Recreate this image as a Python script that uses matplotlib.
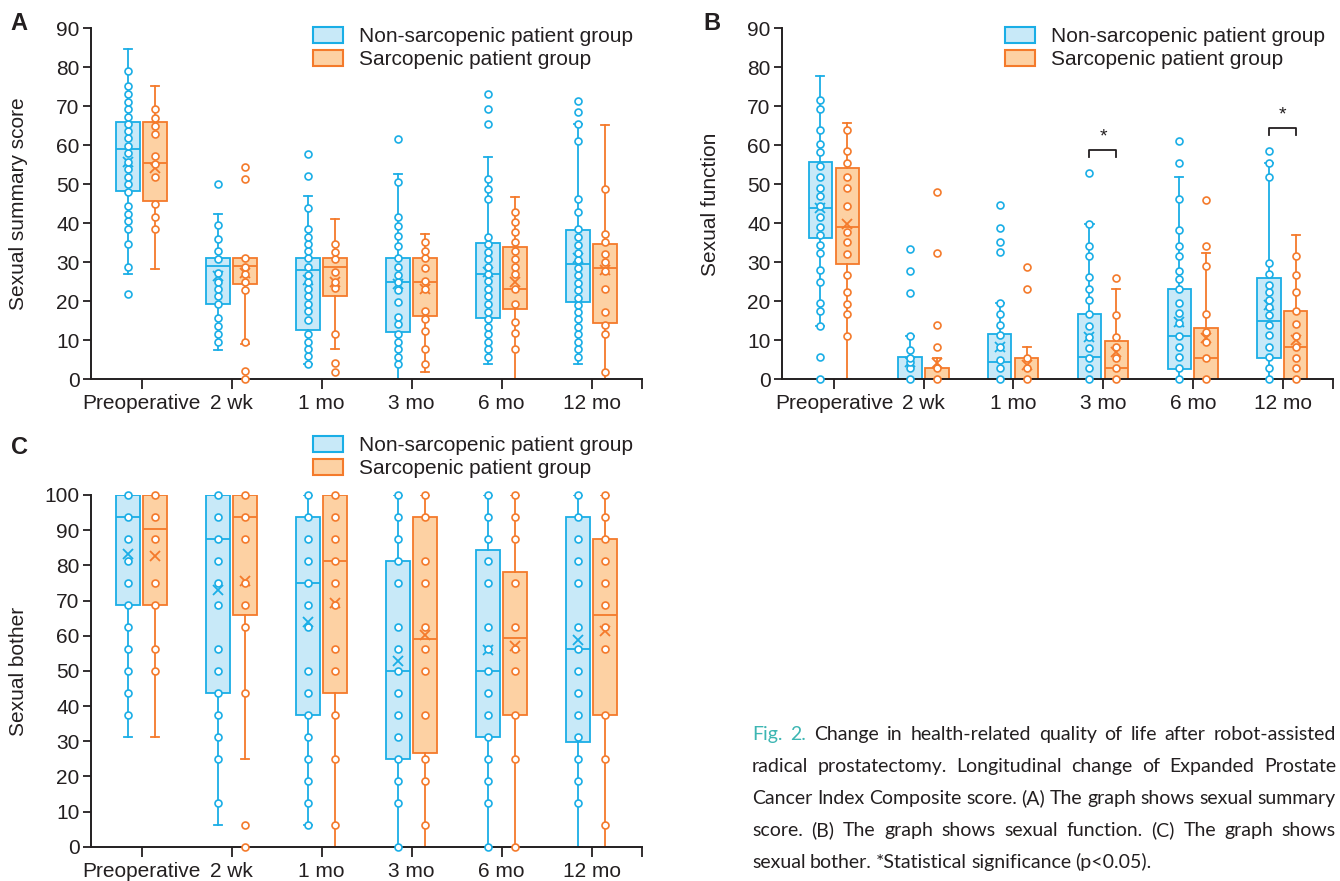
import numpy as np
import matplotlib
matplotlib.use('Agg')
import matplotlib.pyplot as plt
from matplotlib.patches import Patch

plt.rcParams['font.family'] = ['Liberation Sans', 'DejaVu Sans']

timepoints = ['Preoperative', '2 wk', '1 mo', '3 mo', '6 mo', '12 mo']
group_labels = ['Non-sarcopenic patient group', 'Sarcopenic patient group']

# box stats per time point: (lower whisker, Q1, median, Q3, upper whisker, mean)
a_non_box = [(26.9, 48.2, 59.0, 66.0, 84.7, 55.8),
             (7.5, 19.2, 29.0, 31.1, 42.3, 26.5),
             (3.8, 12.7, 28.0, 31.1, 47.0, 25.5),
             (0.0, 12.0, 25.0, 31.1, 52.6, 24.3),
             (3.8, 15.6, 27.0, 35.0, 57.1, 27.5),
             (3.8, 19.7, 29.4, 38.2, 65.4, 31.0)]
a_sar_box = [(28.2, 45.6, 55.4, 66.0, 75.2, 54.1),
             (8.9, 24.4, 29.0, 31.1, 31.1, 27.1),
             (7.7, 21.3, 28.8, 31.1, 41.1, 25.0),
             (1.9, 16.2, 25.0, 31.1, 37.2, 23.0),
             (0.0, 17.9, 23.1, 33.9, 46.8, 25.0),
             (0.0, 14.4, 28.5, 34.7, 65.3, 28.1)]
a_non_pts = [[21.8, 28.7, 34.6, 38.5, 40.5, 42.3, 44.4, 47.9, 50.0, 51.9, 53.9, 55.8, 57.9,
              59.9, 61.8, 63.6, 65.5, 67.2, 69.2, 71.2, 73.1, 75.1, 79.0],
             [9.5, 11.6, 13.6, 15.6, 19.2, 21.2, 23.0, 25.0, 27.3, 30.8, 32.8, 35.9, 39.5, 50.0],
             [3.8, 5.9, 7.7, 9.6, 11.5, 15.2, 17.4, 19.3, 21.2, 23.1, 25.0, 26.8, 28.8, 31.0,
              32.8, 34.6, 36.5, 38.6, 43.8, 52.0, 57.8],
             [3.8, 5.7, 7.6, 9.6, 11.5, 14.0, 16.0, 19.8, 22.9, 24.8, 26.7, 28.7, 31.0, 34.1,
              36.6, 39.2, 41.7, 50.6, 61.5],
             [5.7, 7.8, 9.6, 11.5, 13.4, 15.4, 17.3, 19.2, 21.3, 23.2, 25.1, 26.9, 28.8, 30.8,
              32.7, 34.6, 36.5, 46.2, 48.8, 51.2, 65.5, 69.3, 73.1],
             [5.7, 7.6, 9.6, 11.5, 13.3, 15.3, 17.1, 19.0, 20.9, 22.8, 24.7, 26.7, 28.6, 30.5,
              32.4, 34.4, 36.4, 38.6, 42.9, 46.1, 61.1, 65.4, 68.6, 71.3]]
a_sar_pts = [[38.4, 41.7, 44.9, 51.8, 55.1, 57.2, 63.0, 64.9, 66.9, 69.3],
             [0.0, 2.0, 9.6, 22.9, 25.0, 26.9, 28.8, 31.0, 51.3, 54.4],
             [1.9, 4.0, 11.5, 23.3, 25.0, 27.5, 30.8, 32.7, 34.7],
             [3.8, 7.6, 12.4, 15.4, 17.4, 23.0, 25.1, 28.6, 31.0, 32.8, 35.2],
             [7.7, 11.7, 14.5, 19.2, 23.1, 26.9, 28.8, 30.8, 32.8, 35.2, 37.6, 40.2, 42.9],
             [1.8, 11.5, 13.8, 17.3, 23.1, 27.8, 29.9, 32.1, 35.1, 37.2, 48.8]]

b_non_box = [(13.7, 36.2, 44.0, 55.8, 77.7, 44.0),
             (0.0, 0.0, 0.0, 5.6, 11.1, 4.4),
             (0.0, 0.0, 4.4, 11.5, 19.5, 8.1),
             (0.0, 0.0, 5.6, 16.8, 39.7, 10.9),
             (0.0, 2.5, 11.1, 23.1, 51.9, 14.5),
             (0.0, 5.4, 14.9, 25.9, 55.5, 19.0)]
b_sar_box = [(0.0, 29.6, 39.0, 54.1, 65.8, 39.9),
             (0.0, 0.0, 0.0, 2.7, 5.3, 4.2),
             (0.0, 0.0, 0.0, 5.5, 8.2, 3.5),
             (0.0, 0.0, 2.7, 9.7, 23.2, 7.0),
             (0.0, 0.0, 5.5, 13.2, 32.3, 10.4),
             (0.0, 0.0, 8.2, 17.5, 37.0, 10.0)]
b_non_pts = [[0.0, 5.6, 13.7, 17.4, 19.5, 25.0, 27.9, 32.3, 34.5, 37.0, 39.0, 41.7, 44.5, 47.0,
              49.1, 51.8, 54.7, 58.3, 60.3, 63.8, 69.3, 71.6],
             [0.0, 2.7, 4.4, 5.3, 7.4, 11.1, 22.1, 27.8, 33.4],
             [0.0, 2.7, 5.0, 8.1, 11.4, 13.9, 16.6, 19.5, 32.5, 35.2, 38.8, 44.6],
             [0.0, 2.7, 5.3, 8.0, 10.9, 13.7, 16.7, 20.4, 23.2, 26.1, 31.6, 34.2, 39.7, 52.8],
             [0.0, 2.7, 5.6, 8.3, 11.1, 14.3, 16.9, 19.5, 23.2, 25.6, 27.7, 31.6, 34.2, 38.2,
              46.2, 55.5, 61.2],
             [0.0, 2.7, 5.6, 8.3, 11.3, 13.9, 16.4, 18.6, 20.4, 22.2, 24.2, 26.9, 29.8, 51.8,
              55.5, 58.4]]
b_sar_pts = [[11.0, 16.6, 19.2, 22.2, 26.8, 32.2, 35.1, 37.6, 44.5, 49.1, 51.8, 55.5, 58.4, 63.8],
             [0.0, 2.7, 8.2, 13.9, 32.4, 48.1],
             [0.0, 2.7, 5.5, 23.0, 28.7],
             [0.0, 2.7, 5.3, 8.3, 10.9, 16.5, 25.8],
             [0.0, 5.5, 9.6, 12.0, 16.6, 29.1, 34.1, 45.9],
             [0.0, 2.7, 5.5, 8.3, 11.0, 14.0, 17.5, 22.2, 26.8, 31.6]]

c_non_box = [(31.25, 68.75, 93.75, 100, 100, 83.3),
             (6.25, 43.75, 87.5, 100, 100, 73.0),
             (6.25, 37.5, 75.0, 93.75, 100, 63.8),
             (0.0, 25.0, 50.0, 81.25, 100, 52.8),
             (0.0, 31.25, 50.0, 84.4, 100, 56.0),
             (0.0, 29.9, 56.25, 93.75, 100, 58.8)]
c_sar_box = [(31.25, 68.75, 90.4, 100, 100, 82.7),
             (25.0, 65.8, 93.75, 100, 100, 75.5),
             (0.0, 43.75, 81.25, 100, 100, 69.2),
             (0.0, 26.5, 59.1, 93.75, 100, 60.2),
             (0.0, 37.5, 59.2, 78.2, 100, 57.1),
             (0.0, 37.5, 65.8, 87.5, 100, 61.3)]
c_non_pts = [[37.5, 43.75, 50, 56.25, 62.5, 68.75, 75, 81.25, 87.5, 93.75, 100],
             [12.5, 25, 31.25, 37.5, 43.75, 50, 56.25, 68.75, 75, 81.25, 87.5, 93.75, 100],
             [6.25, 12.5, 18.75, 25, 31.25, 37.5, 43.75, 50, 62.5, 68.75, 75, 81.25, 87.5, 93.75, 100],
             [0, 12.5, 18.75, 25, 31.25, 37.5, 43.75, 50, 56.25, 62.5, 75, 81.25, 87.5, 93.75, 100],
             [0, 12.5, 18.75, 25, 31.25, 37.5, 43.75, 50, 56.25, 62.5, 75, 81.25, 87.5, 93.75, 100],
             [12.5, 18.75, 25, 31.25, 37.5, 43.75, 50, 56.25, 62.5, 75, 81.25, 87.5, 93.75, 100]]
c_sar_pts = [[50, 56.25, 68.75, 75, 87.5, 93.75, 100],
             [0, 6.25, 43.75, 62.5, 68.75, 75, 87.5, 93.75, 100],
             [6.25, 25, 37.5, 50, 56.25, 68.75, 75, 81.25, 87.5, 93.75, 100],
             [6.25, 18.75, 25, 37.5, 50, 56.25, 62.5, 75, 81.25, 93.75, 100],
             [0, 25, 37.5, 50, 56.25, 62.5, 75, 87.5, 93.75, 100],
             [6.25, 25, 37.5, 56.25, 62.5, 68.75, 75, 81.25, 87.5, 93.75, 100]]

# significant differences in panel B (time index)
b_sig = [3, 5]

caption = ["Fig. 2. Change in health-related quality of life after robot-assisted",
           "radical prostatectomy. Longitudinal change of Expanded Prostate",
           "Cancer Index Composite score. (A) The graph shows sexual summary",
           "score. (B) The graph shows sexual function. (C) The graph shows",
           "sexual bother. *Statistical significance (p<0.05)."]

dark = '#231f20'
blue_edge, blue_fill = '#1aaee6', '#c8e9f8'
orange_edge, orange_fill = '#f47a2b', '#fdd1a3'
teal = '#3db6b3'
W, H = 1340, 881

fig = plt.figure(figsize=(13.4, 8.81), dpi=100)


def draw_group(ax, box, pts, pos, edge, fill):
    stats = [dict(whislo=b[0], q1=b[1], med=b[2], q3=b[3], whishi=b[4], mean=b[5], fliers=[])
             for b in box]
    lw = 1.3
    ax.bxp(stats, positions=pos, widths=0.26, patch_artist=True, showmeans=True,
           showfliers=False, manage_ticks=False, capwidths=0.09,
           boxprops=dict(facecolor=fill, edgecolor=edge, linewidth=lw),
           medianprops=dict(color=edge, linewidth=lw),
           whiskerprops=dict(color=edge, linewidth=lw),
           capprops=dict(color=edge, linewidth=lw),
           meanprops=dict(marker='x', markeredgecolor=edge, markersize=7.5, markeredgewidth=1.3))
    for p, vals in zip(pos, pts):
        ax.plot(np.full(len(vals), p), vals, 'o', mfc='white', mec=edge, ms=5, mew=1.2,
                zorder=4, clip_on=False)


def panel(rect, xlim, ylim, ytick_step, non_box, non_pts, sar_box, sar_pts, legend_xy):
    ax = fig.add_axes(rect)
    x = np.arange(len(timepoints))
    draw_group(ax, non_box, non_pts, x - 0.152, blue_edge, blue_fill)
    draw_group(ax, sar_box, sar_pts, x + 0.148, orange_edge, orange_fill)
    ax.set_xlim(*xlim)
    ax.set_ylim(*ylim)
    ax.set_yticks(np.arange(ylim[0], ylim[1] + 1, ytick_step))
    ax.set_xticks(x)
    ax.set_xticklabels(timepoints)
    ax.set_xticks([xlim[1]], minor=True)
    for s in ['top', 'right']:
        ax.spines[s].set_visible(False)
    for s in ['left', 'bottom']:
        ax.spines[s].set_linewidth(1.4)
        ax.spines[s].set_color(dark)
    ax.tick_params(axis='both', which='both', labelsize=15, colors=dark, width=1.3)
    ax.tick_params(axis='y', length=6, pad=2)
    ax.tick_params(axis='x', which='both', length=7, pad=4)
    handles = [Patch(facecolor=blue_fill, edgecolor=blue_edge, linewidth=1.5),
               Patch(facecolor=orange_fill, edgecolor=orange_edge, linewidth=1.5)]
    leg = ax.legend(handles, group_labels, loc='upper left',
                    bbox_to_anchor=(legend_xy[0] / W, 1 - legend_xy[1] / H),
                    bbox_transform=fig.transFigure, frameon=False, fontsize=15,
                    handlelength=1.45, handleheight=0.78, handletextpad=0.75,
                    labelspacing=0.2, borderpad=0, borderaxespad=0)
    for t in leg.get_texts():
        t.set_color(dark)
    return ax


ax_a = panel([90.7 / W, 1 - 379 / H, 551 / W, 350.7 / H], (-0.567, 5.556), (0, 90), 10,
             a_non_box, a_non_pts, a_sar_box, a_sar_pts, (313, 27))
ax_b = panel([781.7 / W, 1 - 379 / H, 551.6 / W, 350.7 / H], (-0.583, 5.566), (0, 90), 10,
             b_non_box, b_non_pts, b_sar_box, b_sar_pts, (1005, 27))
ax_c = panel([90.7 / W, 1 - 846.7 / H, 551 / W, 351.7 / H], (-0.567, 5.556), (0, 100), 10,
             c_non_box, c_non_pts, c_sar_box, c_sar_pts, (313, 436))

# significance brackets
for i in b_sig:
    top = max(max(b_non_pts[i]), b_non_box[i][4])
    y_line = top + 6.0
    x1, x2 = i - 0.152, i + 0.148
    ax_b.plot([x1, x1, x2, x2], [y_line - 1.9, y_line, y_line, y_line - 1.9], color=dark, lw=1.3)
    ax_b.text(i, y_line + 1.2, '*', ha='center', va='bottom', fontsize=14, color=dark)

# panel letters and axis titles
for letter, (lx, ly) in zip('ABC', [(19, 23), (712, 23), (19, 448)]):
    fig.text(lx / W, 1 - ly / H, letter, fontsize=17, fontweight='bold', color=dark,
             ha='center', va='center')
for label, (lx, ly) in zip(['Sexual summary score', 'Sexual function', 'Sexual bother'],
                           [(19, 204), (711, 204), (19, 671)]):
    fig.text(lx / W, 1 - ly / H, label, fontsize=15, color=dark, rotation=90,
             ha='center', va='center')

# caption, justified lines; size fitted so the first line fills the column
renderer = fig.canvas.get_renderer()
cap_family = ['Liberation Sans Narrow', 'Lato']
cap_left, cap_right = 752, 1336
probe = fig.text(0, 0, caption[0], fontsize=15, family=cap_family)
cap_size = min(15.5, 15 * 560 / probe.get_window_extent(renderer).width)
probe.remove()
cap_y = [740, 772, 804, 836, 868]
for n, (line, yy) in enumerate(zip(caption, cap_y)):
    words = line.split(' ')
    texts = []
    for k, w in enumerate(words):
        c = teal if (n == 0 and k < 2) else dark
        texts.append(fig.text(0, 1 - yy / H, w, fontsize=cap_size, color=c, family=cap_family,
                              va='baseline'))
    widths = [t.get_window_extent(renderer).width for t in texts]
    if n < len(caption) - 1:
        gap = (cap_right - cap_left - sum(widths)) / (len(words) - 1)
    else:
        gap = cap_size * 0.3
    xx = cap_left
    for t, w in zip(texts, widths):
        t.set_x(xx / W)
        xx += w + gap

fig.savefig('out.png', dpi=100)
